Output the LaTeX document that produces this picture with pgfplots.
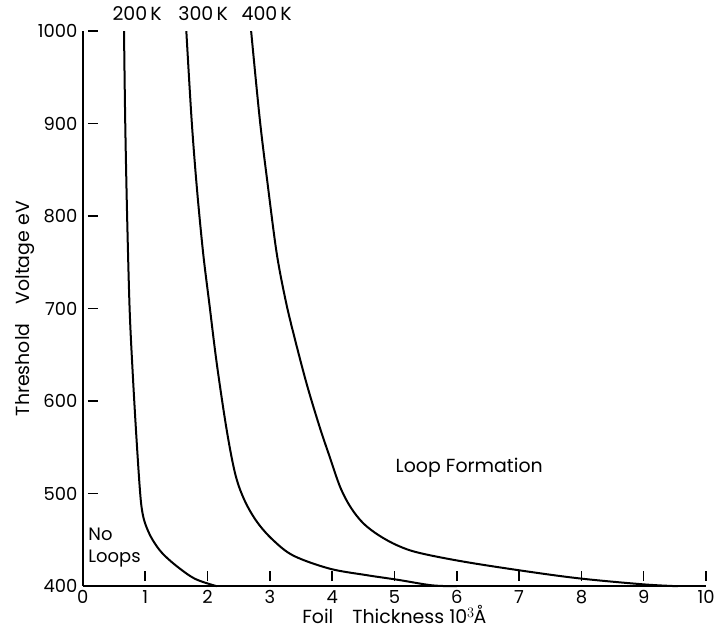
\documentclass[border=0pt]{standalone}
\usepackage{pgfplots}
\pgfplotsset{compat=1.18}
\usepackage{fontspec}
\setmainfont{Poppins}
\begin{document}
\begin{tikzpicture}
\begin{axis}[
  scale only axis,
  width=623bp, height=555bp,
  xmin=0, xmax=10, ymin=400, ymax=1000,
  axis x line=bottom, axis y line=left,
  axis line style={-, line width=1.6bp},
  xtick={0,1,...,10}, ytick={400,500,...,1000},
  tick align=inside,
  xtick style={draw=black, line width=1.5bp, yshift=5bp},
  ytick style={draw=black, line width=1.5bp, xshift=5bp},
  major tick length=10bp,
  /pgf/number format/assume math mode=true,
  /pgf/number format/1000 sep={},
  ticklabel style={font=\fontsize{18}{18}\selectfont},
  xticklabel style={yshift=-1bp},
  yticklabel style={xshift=-2bp},
  xlabel={Foil\quad Thickness 10$^{3}$\kern-1pt Å},
  ylabel={Threshold\quad Voltage eV},
  label style={font=\fontsize{19}{19}\selectfont},
  xlabel style={yshift=6bp},
  ylabel style={yshift=-4bp},
  clip=false,
]
\addplot[black, line width=2bp, smooth, tension=0.55] coordinates {
(0.66,1000) (0.68,900) (0.71,800) (0.75,700) (0.80,630) (0.86,560)
(0.92,500) (0.96,478) (1.02,464) (1.12,450) (1.27,436) (1.50,422)
(1.80,408) (2.15,400)};
\addplot[black, line width=2bp, smooth, tension=0.55] coordinates {
(1.66,1000) (1.745,904) (1.83,830) (1.93,760) (2.03,705) (2.15,640)
(2.31,568) (2.45,520) (2.60,492) (2.80,469) (3.05,450) (3.38,433)
(3.96,419) (4.55,412) (5.05,407) (5.6,401) (6.0,400)};
\addplot[black, line width=2bp, smooth, tension=0.55] coordinates {
(2.70,1000) (2.84,904) (2.97,832) (3.11,760) (3.25,710) (3.38,673)
(3.59,619) (3.80,572) (3.96,540) (4.13,507) (4.30,485) (4.50,468)
(4.75,455) (5.05,444) (5.40,436) (6.16,426) (7.23,415) (8.03,408)
(9.0,402) (9.55,400)};
\node[font=\fontsize{19}{19}\selectfont] at (axis cs:0.87,1019) {200\,K};
\node[font=\fontsize{19}{19}\selectfont] at (axis cs:1.93,1019) {300\,K};
\node[font=\fontsize{19}{19}\selectfont] at (axis cs:2.95,1019) {400\,K};
\node[font=\fontsize{19}{19}\selectfont] at (axis cs:6.2,528) {Loop Formation};
\node[font=\fontsize{18}{22}\selectfont, align=left, anchor=west, inner sep=1bp] at (axis cs:0.07,442) {No\\Loops};
\path (rel axis cs:-0.133,-0.0955) rectangle (rel axis cs:1.024,1.056);
\end{axis}
\end{tikzpicture}
\end{document}
